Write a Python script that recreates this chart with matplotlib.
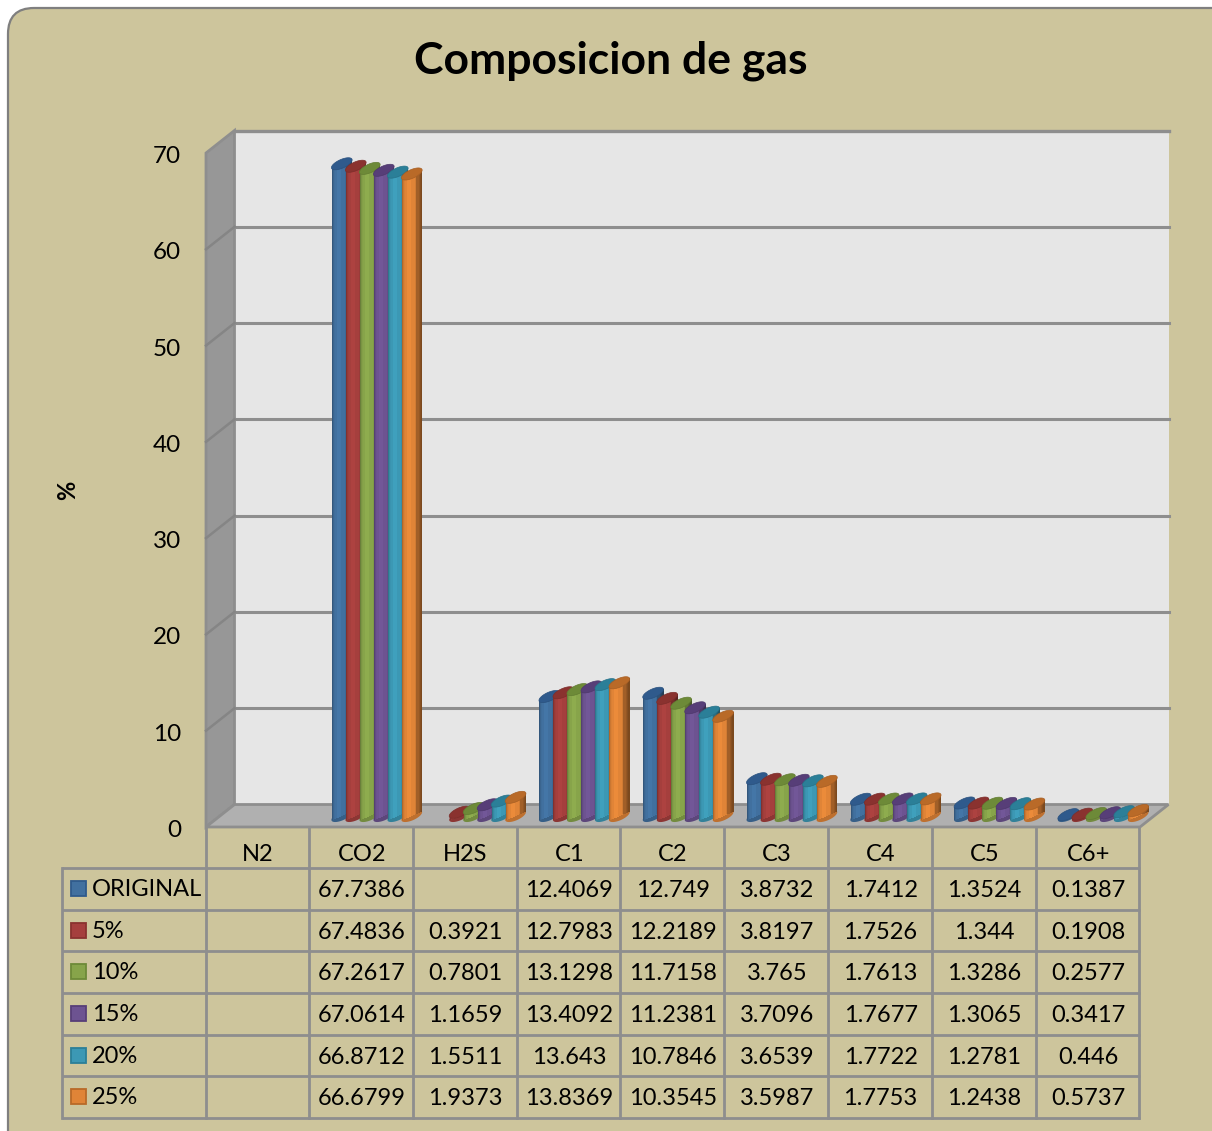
import numpy as np
import matplotlib
matplotlib.use("Agg")
import matplotlib.pyplot as plt
from matplotlib.patches import FancyBboxPatch, Polygon, Rectangle
from matplotlib.transforms import Affine2D

categories = ["N2", "CO2", "H2S", "C1", "C2", "C3", "C4", "C5", "C6+"]
series_names = ["ORIGINAL", "5%", "10%", "15%", "20%", "25%"]
original = [None, 67.7386, None, 12.4069, 12.749, 3.8732, 1.7412, 1.3524, 0.1387]
pct5 = [None, 67.4836, 0.3921, 12.7983, 12.2189, 3.8197, 1.7526, 1.344, 0.1908]
pct10 = [None, 67.2617, 0.7801, 13.1298, 11.7158, 3.765, 1.7613, 1.3286, 0.2577]
pct15 = [None, 67.0614, 1.1659, 13.4092, 11.2381, 3.7096, 1.7677, 1.3065, 0.3417]
pct20 = [None, 66.8712, 1.5511, 13.643, 10.7846, 3.6539, 1.7722, 1.2781, 0.446]
pct25 = [None, 66.6799, 1.9373, 13.8369, 10.3545, 3.5987, 1.7753, 1.2438, 0.5737]
all_series = [original, pct5, pct10, pct15, pct20, pct25]
body_colors = ["#41709F", "#A53F3D", "#87A44A", "#6D5391", "#3C98B4", "#E08437"]
top_colors = ["#2F5A8C", "#8A322F", "#6D8A38", "#573E78", "#2B7F98", "#B96A28"]
y_ticks = [0, 10, 20, 30, 40, 50, 60, 70]

W, H = 1212, 1131
BG = "#CDC59C"
LINE = "#8E8E8E"
FONT = "Lato"
plt.rcParams["font.family"] = [FONT, "DejaVu Sans"]

fig = plt.figure(figsize=(W / 100, H / 100), dpi=100, facecolor="white")

# page layer in pixel coordinates
bg = fig.add_axes([0, 0, 1, 1], zorder=0)
bg.set_xlim(0, W)
bg.set_ylim(H, 0)
bg.axis("off")
bg.add_patch(FancyBboxPatch((8, 8), W + 30, H + 30, boxstyle="round,pad=0,rounding_size=26",
                            fc=BG, ec="#7F7F7F", lw=1.6))
bg.text(611, 60.5, "Composicion de gas", ha="center", va="center", fontsize=32,
        fontweight="bold", color="black")

# plot: front plane
LEFT, RIGHT, Y0, Y70 = 206, 1140, 827, 153
ax = fig.add_axes([LEFT / W, 1 - Y0 / H, (RIGHT - LEFT) / W, (Y0 - Y70) / H], zorder=2)
ax.set_xlim(0, 9)
ax.set_ylim(0, 70)
ax.patch.set_alpha(0)
for s in ax.spines.values():
    s.set_visible(False)
ax.set_xticks(np.arange(9) + 0.5, categories, fontsize=17)
ax.set_yticks(y_ticks, [str(t) for t in y_ticks], fontsize=17.5)
ax.tick_params(axis="x", length=0, pad=12.5)
ax.tick_params(axis="y", length=0, pad=18)
for lab in ax.get_yticklabels():
    lab.set_transform(lab.get_transform() + Affine2D().translate(0, -1.5))
ax.set_ylabel("%", fontsize=17, fontweight="bold", rotation=90)
ax.yaxis.set_label_coords(-0.136, 0.500)

PX = (RIGHT - LEFT) / 9
PY = (Y0 - Y70) / 70
DX, DY = 28.5 / PX, 22.5 / PY

def poly(xs, ys, **kw):
    ax.add_patch(Polygon(np.column_stack([xs, ys]), closed=True, clip_on=False, **kw))

# walls
poly([DX, 9 + DX, 9 + DX, DX], [DY, DY, 70 + DY, 70 + DY], fc="#E6E6E6", ec="none", zorder=1)
ax.plot([DX, 9 + DX], [70 + DY, 70 + DY], color=LINE, lw=2.4, zorder=1.05, clip_on=False)
poly([0, DX, DX, 0], [0, DY, 70 + DY, 70], fc="#979797", ec=LINE, lw=2, zorder=1.1)
poly([0, DX, 9 + DX, 9], [0, DY, DY, 0], fc="#B0B0B0", ec=LINE, lw=2, zorder=1.2)
for v in y_ticks[1:-1]:
    ax.plot([DX, 9 + DX], [v + DY, v + DY], color=LINE, lw=2.2, zorder=1.3, clip_on=False)
    ax.plot([0, DX], [v, v + DY], color="#858585", lw=1.8, zorder=1.3, clip_on=False)

# cylinders
BAR_W = 20 / PX
STEP = 14 / PX
START = 22 / PX
BASE = 11 / PY
SLOPE = 9 / 20          # screen rise per screen run of the tilted caps
A, B, ANG = 11.2, 4.3, np.arctan(SLOPE)
t = np.linspace(0, 2 * np.pi, 60)
ex = (A * np.cos(t) * np.cos(ANG) - B * np.sin(t) * np.sin(ANG)) / PX
ey = (A * np.cos(t) * np.sin(ANG) + B * np.sin(t) * np.cos(ANG)) / PY

def shade(c, f):
    rgb = np.array(matplotlib.colors.to_rgb(c))
    return tuple(np.clip(rgb * f, 0, 1))

offs = np.arange(20)
factors = np.ones(20)
factors[0], factors[1], factors[2] = 0.78, 0.90, 0.97
factors[5:9] = 1.05
factors[13] = 0.93
factors[14:17] = 0.72
factors[17:20] = [0.66, 0.60, 0.55]

z = 2.0
for i, (vals, body, top) in enumerate(zip(all_series, body_colors, top_colors)):
    for c, v in enumerate(vals):
        if v is None:
            continue
        x0 = c + START + i * STEP
        cx = x0 + BAR_W / 2
        z += 0.01
        poly(cx + ex, BASE + ey, fc=shade(body, 0.85), ec="none", zorder=z)
        for k in offs:
            xl = x0 + k / PX
            bottom = BASE - (10 - k - 0.5) * SLOPE / PY
            ax.bar(xl, v, width=1.4 / PX, bottom=bottom, align="edge",
                   color=shade(body, factors[k]), linewidth=0, zorder=z + 0.001, clip_on=False)
        poly(cx + ex, BASE + v + ey, fc=top, ec=shade(top, 0.9), lw=0.5, zorder=z + 0.002)

# data table
TL, TT = 62, 868
ROW = 41.67
COLX = [LEFT + PX * k for k in range(10)]
n = len(series_names)
for r in range(n + 1):
    bg.plot([TL, RIGHT], [TT + r * ROW] * 2, color=LINE, lw=2, solid_capstyle="butt")
bg.plot([LEFT - 0.5, LEFT - 0.5], [Y0, TT + n * ROW], color=LINE, lw=2)
bg.plot([TL, TL], [TT, TT + n * ROW], color=LINE, lw=2)
for cxp in COLX[1:]:
    bg.plot([cxp - 0.7, cxp - 0.7], [Y0, TT + n * ROW], color=LINE, lw=2)
for r, (name, vals, body, top) in enumerate(zip(series_names, all_series, body_colors, top_colors)):
    yc = TT + (r + 0.5) * ROW
    bg.add_patch(Rectangle((71, yc - 8), 15, 15, fc=body, ec=top, lw=1.3))
    bg.text(92, yc + 0.5, name, ha="left", va="center", fontsize=17, color="black")
    for c, v in enumerate(vals):
        if v is not None:
            bg.text(LEFT + (c + 0.5) * PX, yc + 1.5, str(v), ha="center", va="center",
                    fontsize=17, color="black")

fig.savefig("out.png", dpi=100, facecolor="white")
